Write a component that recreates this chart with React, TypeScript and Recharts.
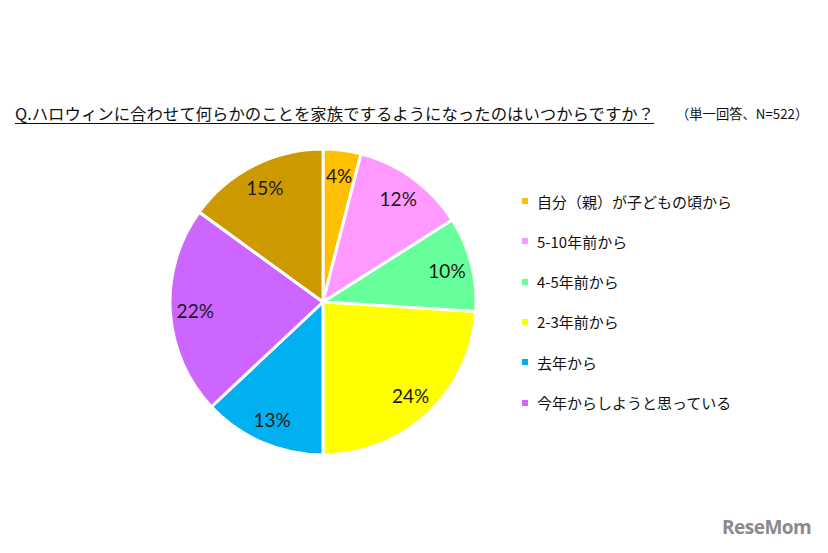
import { PieChart, Pie, Cell } from 'recharts';

const categories = [
  '自分（親）が子どもの頃から',
  '5-10年前から',
  '4-5年前から',
  '2-3年前から',
  '去年から',
  '今年からしようと思っている',
  'その他',
];
const shares = [4, 12, 10, 24, 13, 22, 15];
const colors = ['#FFC000', '#FF99FF', '#66FF99', '#FFFF00', '#00B0F0', '#CC66FF', '#CC9900'];
// the last slice has no legend entry in the source
const legendCount = 6;

const title = 'Q.ハロウィンに合わせて何らかのことを家族でするようになったのはいつからですか？';
const note = '（単一回答、N=522）';

const data = categories.map((name, i) => ({ name, value: shares[i] }));

const RADIAN = Math.PI / 180;

function renderLabel(props: any) {
  const { cx, cy, midAngle, value } = props;
  const r = 128;
  const x = cx + r * Math.cos(-midAngle * RADIAN);
  const y = cy + r * Math.sin(-midAngle * RADIAN);
  return (
    <text
      x={x}
      y={y}
      textAnchor="middle"
      dominantBaseline="central"
      fill="#1a1a1a"
      fontSize={19}
      fontFamily="Lato, 'Liberation Sans', sans-serif"
    >
      {value}%
    </text>
  );
}

export default function App() {
  return (
    <div
      style={{
        position: 'absolute',
        left: 0,
        top: 0,
        width: 828,
        height: 553,
        background: '#fff',
        fontFamily: "'Noto Sans CJK JP', sans-serif",
        overflow: 'hidden',
      }}
    >
      <div
        style={{
          position: 'absolute',
          left: 15,
          top: 101,
          fontSize: 16.4,
          color: '#111',
          textDecoration: 'underline',
          textUnderlineOffset: 3,
          whiteSpace: 'nowrap',
          lineHeight: '24px',
        }}
      >
        {title}
      </div>
      <div
        style={{
          position: 'absolute',
          left: 676,
          top: 104,
          fontSize: 13.3,
          color: '#111',
          whiteSpace: 'nowrap',
          lineHeight: '20px',
        }}
      >
        {note}
      </div>

      <PieChart
        width={828}
        height={553}
        margin={{ top: 0, right: 0, bottom: 0, left: 0 }}
        style={{ position: 'absolute', left: 0, top: 0 }}
      >
        <Pie
          data={data}
          dataKey="value"
          nameKey="name"
          cx={323}
          cy={302}
          outerRadius={153}
          startAngle={90}
          endAngle={-270}
          stroke="#fff"
          strokeWidth={3}
          label={renderLabel}
          labelLine={false}
          isAnimationActive={false}
        >
          {data.map((d, i) => (
            <Cell key={d.name} fill={colors[i]} />
          ))}
        </Pie>
      </PieChart>

      {categories.slice(0, legendCount).map((name, i) => (
        <div
          key={name}
          style={{
            position: 'absolute',
            left: 522,
            top: 190 + i * 40.3,
            height: 22,
            display: 'flex',
            alignItems: 'center',
            whiteSpace: 'nowrap',
            fontSize: 15,
            color: '#111',
          }}
        >
          <span
            style={{
              display: 'inline-block',
              width: 6,
              height: 6,
              background: colors[i],
              marginRight: 9,
            }}
          />
          {name}
        </div>
      ))}

      <div
        style={{
          position: 'absolute',
          left: 722,
          top: 514,
          fontSize: 19,
          fontWeight: 700,
          color: '#8a8a8a',
          fontFamily: "'Open Sans', sans-serif",
          letterSpacing: -0.5,
        }}
      >
        ReseMom
      </div>
    </div>
  );
}
